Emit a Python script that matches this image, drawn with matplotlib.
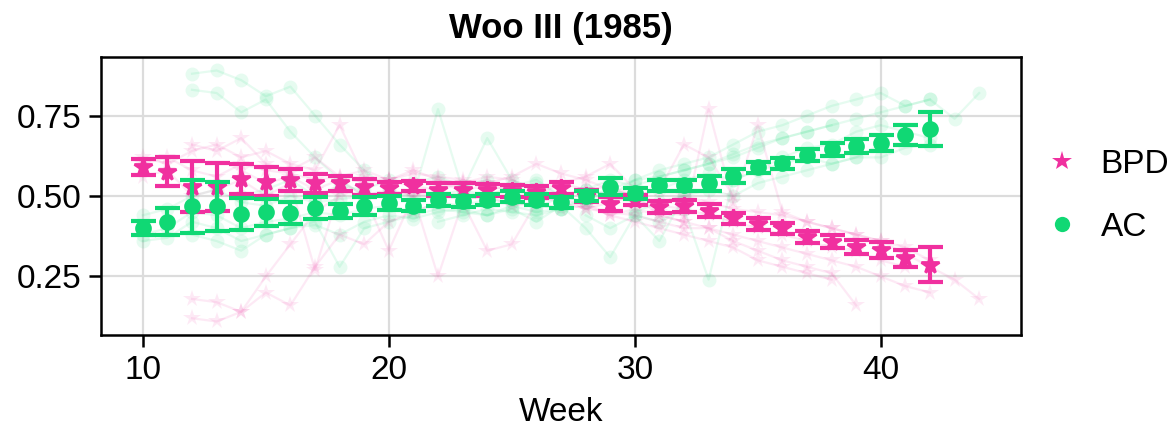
import numpy as np
import matplotlib
matplotlib.use("Agg")
import matplotlib.pyplot as plt
from matplotlib.lines import Line2D

plt.rcParams['font.family'] = ['Liberation Sans', 'DejaVu Sans']

# ---- mean curves ----
weeks = list(range(10, 43))
bpd_mean = [0.589, 0.576, 0.529, 0.529, 0.552, 0.545, 0.550, 0.539, 0.539, 0.527,
            0.524, 0.531, 0.519, 0.520, 0.519, 0.515, 0.513, 0.524, 0.500, 0.475,
            0.488, 0.465, 0.468, 0.454, 0.431, 0.413, 0.400, 0.373, 0.358, 0.342,
            0.332, 0.306, 0.287]
bpd_err = [0.025, 0.045, 0.080, 0.075, 0.047, 0.044, 0.034, 0.029, 0.023, 0.025,
           0.018, 0.017, 0.020, 0.020, 0.018, 0.018, 0.018, 0.018, 0.020, 0.021,
           0.015, 0.018, 0.018, 0.020, 0.017, 0.018, 0.017, 0.018, 0.021, 0.022,
           0.024, 0.027, 0.054]
ac_mean = [0.400, 0.420, 0.468, 0.468, 0.444, 0.449, 0.446, 0.462, 0.454, 0.469,
           0.477, 0.470, 0.488, 0.483, 0.488, 0.498, 0.488, 0.480, 0.501, 0.529,
           0.508, 0.534, 0.534, 0.539, 0.562, 0.589, 0.602, 0.627, 0.645, 0.656,
           0.664, 0.690, 0.708]
ac_err = [0.021, 0.042, 0.082, 0.076, 0.049, 0.042, 0.034, 0.035, 0.021, 0.027,
          0.022, 0.016, 0.018, 0.018, 0.017, 0.017, 0.017, 0.018, 0.016, 0.026,
          0.016, 0.017, 0.017, 0.024, 0.023, 0.018, 0.017, 0.018, 0.021, 0.022,
          0.024, 0.030, 0.054]

# ---- individual traces (start week, values) ----
ac_traces = [
    (12, [0.88, 0.89, 0.86, 0.81, 0.84, 0.75, 0.66, 0.58, 0.52]),
    (12, [0.83, 0.82, 0.76, 0.80, 0.70, 0.62, 0.55, 0.50]),
    (10, [0.38, 0.40, 0.45, 0.44, 0.40, 0.42, 0.43, 0.45, 0.44, 0.46, 0.47, 0.45, 0.48,
          0.47, 0.49, 0.48, 0.47, 0.46, 0.49, 0.52, 0.50]),
    (10, [0.44, 0.46, 0.50, 0.52, 0.48, 0.47, 0.50, 0.48, 0.49, 0.50, 0.51, 0.50, 0.77,
          0.52, 0.68, 0.55, 0.52, 0.50, 0.48]),
    (12, [0.38, 0.36, 0.33, 0.38, 0.40, 0.42, 0.28, 0.40, 0.42, 0.44, 0.46, 0.45, 0.44,
          0.46, 0.42, 0.47, 0.40, 0.31, 0.44, 0.36, 0.50]),
    (10, [0.36, 0.37, 0.42, 0.40, 0.36, 0.38, 0.40, 0.41, 0.38, 0.42, 0.44, 0.43, 0.45,
          0.46, 0.44, 0.47, 0.45, 0.46]),
    (20, [0.50, 0.48, 0.50, 0.52, 0.50, 0.53, 0.55, 0.50, 0.52, 0.55, 0.53, 0.56, 0.58,
          0.60, 0.62, 0.65, 0.68, 0.70, 0.72, 0.74, 0.76, 0.78, 0.80, 0.74, 0.82]),
    (28, [0.44, 0.40, 0.44, 0.42, 0.46, 0.24, 0.55, 0.58, 0.62, 0.65, 0.66, 0.70, 0.72,
          0.70, 0.68]),
    (26, [0.46, 0.50, 0.48, 0.52, 0.55, 0.58, 0.60, 0.62, 0.66, 0.70, 0.72, 0.75, 0.78,
          0.80, 0.82, 0.78, 0.80]),
    (30, [0.45, 0.48, 0.50, 0.52, 0.50, 0.54, 0.56, 0.58, 0.60, 0.62, 0.62, 0.65, 0.66]),
    (22, [0.42, 0.44, 0.46, 0.45, 0.44, 0.46, 0.50, 0.52, 0.50, 0.52, 0.55, 0.57, 0.55,
          0.58, 0.60, 0.62, 0.60, 0.62, 0.66]),
    (14, [0.50, 0.52, 0.55, 0.50, 0.53, 0.52, 0.55, 0.54, 0.56, 0.53, 0.55, 0.52, 0.54,
          0.50, 0.52, 0.50, 0.55, 0.56, 0.58, 0.60, 0.63, 0.66, 0.68, 0.70, 0.72]),
]
bpd_traces = [
    (12, [0.18, 0.17, 0.14, 0.20, 0.16, 0.28, 0.38, 0.35, 0.42, 0.45, 0.48]),
    (12, [0.12, 0.11, 0.14, 0.25, 0.35, 0.45, 0.50]),
    (10, [0.62, 0.60, 0.64, 0.66, 0.62, 0.64, 0.60, 0.58, 0.72, 0.56, 0.55, 0.58, 0.55,
          0.54, 0.56, 0.55, 0.52, 0.54, 0.56, 0.60, 0.52]),
    (10, [0.56, 0.58, 0.50, 0.52, 0.55, 0.50, 0.54, 0.27, 0.52, 0.50, 0.33, 0.50, 0.25,
          0.48, 0.33, 0.35, 0.48, 0.50, 0.46, 0.48, 0.50, 0.45, 0.44]),
    (12, [0.66, 0.64, 0.68, 0.60, 0.58, 0.62, 0.56, 0.58, 0.55, 0.57, 0.56, 0.55, 0.54,
          0.56, 0.60, 0.57, 0.55, 0.52, 0.50, 0.52, 0.66, 0.62, 0.50]),
    (10, [0.60, 0.62, 0.58, 0.56, 0.60, 0.58, 0.57, 0.55, 0.56, 0.54, 0.55, 0.53, 0.52,
          0.54, 0.53, 0.52, 0.51, 0.50]),
    (28, [0.48, 0.44, 0.46, 0.44, 0.42, 0.77, 0.48, 0.72, 0.45, 0.42, 0.40, 0.38, 0.36,
          0.32, 0.28, 0.24, 0.18]),
    (26, [0.50, 0.48, 0.46, 0.45, 0.44, 0.42, 0.40, 0.40, 0.38, 0.36, 0.34, 0.32, 0.30,
          0.28, 0.25, 0.22, 0.20]),
    (30, [0.50, 0.48, 0.50, 0.48, 0.46, 0.45, 0.44, 0.42, 0.40, 0.38, 0.36, 0.34, 0.30]),
    (28, [0.52, 0.53, 0.50, 0.44, 0.42, 0.40, 0.36, 0.33, 0.30, 0.28, 0.26, 0.16]),
    (22, [0.54, 0.52, 0.53, 0.52, 0.50, 0.54, 0.52, 0.50, 0.48, 0.47, 0.46, 0.44, 0.42,
          0.40, 0.38, 0.36, 0.34, 0.33, 0.30, 0.28]),
    (14, [0.58, 0.54, 0.56, 0.52, 0.55, 0.50, 0.52, 0.50, 0.51, 0.49, 0.50, 0.47, 0.48,
          0.46, 0.47, 0.44, 0.42, 0.40, 0.38, 0.36, 0.34, 0.30, 0.28, 0.26, 0.24]),
]

pink = '#F0309F'
green = '#10D874'

fig = plt.figure(figsize=(5.845, 2.17), dpi=200)
ax = fig.add_axes([0.0864, 0.2281, 0.787, 0.6406])

for start, vals in ac_traces:
    ax.plot(range(start, start + len(vals)), vals, '-o', color=green, alpha=0.1,
            lw=0.8, ms=5, mew=0, zorder=1)
for start, vals in bpd_traces:
    ax.plot(range(start, start + len(vals)), vals, '-*', color=pink, alpha=0.1,
            lw=0.8, ms=6.5, mew=0, zorder=1)

ax.errorbar(weeks, bpd_mean, yerr=bpd_err, fmt='*', color=pink, ms=6.5,
            elinewidth=1.5, capsize=4.5, capthick=1.5, zorder=3)
ax.errorbar(weeks, ac_mean, yerr=ac_err, fmt='o', color=green, ms=5,
            elinewidth=1.5, capsize=4.5, capthick=1.5, zorder=4)

ax.set_xlim(8.3, 45.7)
ax.set_ylim(0.068, 0.932)
ax.set_xticks([10, 20, 30, 40])
ax.set_yticks([0.25, 0.50, 0.75])
ax.set_yticklabels(['0.25', '0.50', '0.75'])
ax.grid(True, color='#dcdcdc', lw=0.8, zorder=0)
ax.set_axisbelow(True)
ax.tick_params(labelsize=12, length=4.2, width=0.9, color='black', pad=3)
for s in ax.spines.values():
    s.set_linewidth(0.9)
ax.set_xlabel('Week', fontsize=12, labelpad=4)
ax.set_title('Woo III (1985)', fontsize=12.5, fontweight='bold', pad=7)

handles = [Line2D([], [], marker='*', ls='none', color=pink, ms=7.5, mew=0),
           Line2D([], [], marker='o', ls='none', color=green, ms=5.5, mew=0)]
ax.legend(handles, ['BPD', 'AC'], loc='center left', bbox_to_anchor=(0.985, 0.5),
          frameon=False, fontsize=12, handletextpad=0.4, labelspacing=0.95,
          handlelength=1.5)

fig.savefig('out.png', dpi=200)
